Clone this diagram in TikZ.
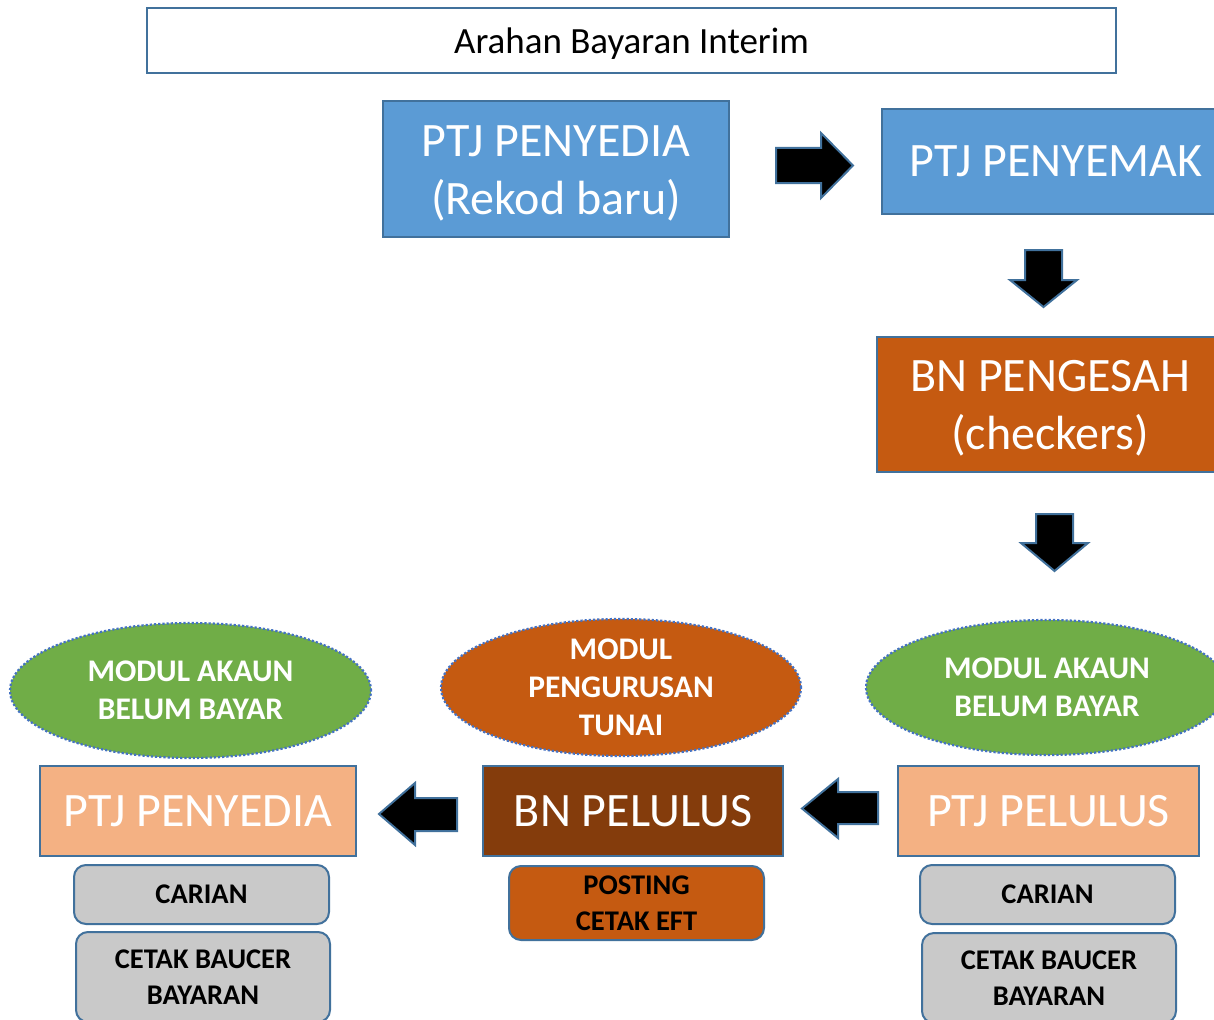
\documentclass[tikz,border=0pt]{standalone}
\usepackage{fontspec}
\setmainfont{Carlito}
\usetikzlibrary{shapes.geometric}
\definecolor{bordblue}{HTML}{41719C}
\definecolor{dotblue}{HTML}{4472C4}
\definecolor{fillblue}{HTML}{5B9BD5}
\definecolor{fillorange}{HTML}{C55A11}
\definecolor{fillbrown}{HTML}{843C0C}
\definecolor{fillpeach}{HTML}{F4B183}
\definecolor{fillgreen}{HTML}{70AD47}
\definecolor{fillgray}{HTML}{C9C9C9}
\newcommand{\lowr}[2]{\raisebox{-#1}[\height][\depth]{#2}}
\tikzset{
  bigbox/.style={draw=bordblue, line width=2pt, inner sep=0pt, align=center, text=white,
    font=\fontsize{48}{58}\selectfont},
  oval/.style={ellipse, draw=dotblue, dotted, line width=2.2pt, inner sep=0pt, align=center,
    text=white, font=\bfseries\fontsize{31.5}{38}\selectfont},
  tag/.style={draw=bordblue, line width=2pt, rounded corners=12pt, inner sep=0pt, align=center,
    text=black, font=\bfseries\fontsize{28.5}{36}\selectfont},
  blockarrow/.style={fill=black, draw=bordblue, line width=2pt, line join=miter}
}
\begin{document}
\begin{tikzpicture}[x=1pt,y=-1pt]
\useasboundingbox (0,0) rectangle (1214,1019);
\clip (0,0) rectangle (1214,1019);
\fill[white] (0,0) rectangle (1214,1019);

\node[draw=bordblue, line width=2pt, fill=white, minimum width=969pt, minimum height=65pt,
  inner sep=0pt, font=\fontsize{37}{44}\selectfont] (title) at (631.5,40.5) {\lowr{3pt}{Arahan Bayaran Interim}};

\node[bigbox, fill=fillblue, minimum width=346pt, minimum height=136pt] (penyedia1) at (556,169)
  {\lowr{4pt}{PTJ PENYEDIA}\\\lowr{4pt}{(Rekod baru)}};
\node[bigbox, fill=fillblue, minimum width=348pt, minimum height=105pt] (penyemak) at (1056,161.5)
  {PTJ PENYEMAK};
\node[bigbox, fill=fillorange, minimum width=346pt, minimum height=135pt] (pengesah) at (1050,404.5)
  {\lowr{4pt}{BN PENGESAH}\\\lowr{4pt}{(checkers)}};

\node[oval, fill=fillgreen, minimum width=361pt, minimum height=135pt] (modulL) at (190.5,690.5)
  {MODUL AKAUN\\BELUM BAYAR};
\node[oval, fill=fillorange, minimum width=360pt, minimum height=133pt] (modulM) at (621,687.5)
  {MODUL\\PENGURUSAN\\TUNAI};
\node[oval, fill=fillgreen, minimum width=362pt, minimum height=135pt] (modulR) at (1047,687.5)
  {MODUL AKAUN\\BELUM BAYAR};

\node[bigbox, fill=fillpeach, minimum width=316pt, minimum height=90pt] (penyedia2) at (198,811)
  {PTJ PENYEDIA};
\node[bigbox, fill=fillbrown, minimum width=300pt, minimum height=90pt] (bnpelulus) at (633,811)
  {BN PELULUS};
\node[bigbox, fill=fillpeach, minimum width=301pt, minimum height=90pt] (ptjpelulus) at (1048.5,811)
  {PTJ PELULUS};

\node[tag, fill=fillgray, minimum width=255pt, minimum height=59pt] (carianL) at (201.5,894.5) {CARIAN};
\node[tag, fill=fillgray, minimum width=254pt, minimum height=90pt] (cetakL) at (203,977) {CETAK BAUCER\\BAYARAN};
\node[tag, fill=fillorange, minimum width=255pt, minimum height=74pt] (posting) at (636.5,903) {POSTING\\CETAK EFT};
\node[tag, fill=fillgray, minimum width=255pt, minimum height=59pt] (carianR) at (1047.5,894.5) {CARIAN};
\node[tag, fill=fillgray, minimum width=254pt, minimum height=90pt] (cetakR) at (1049,978) {CETAK BAUCER\\BAYARAN};

% block arrows
\draw[blockarrow] (776,148) -- (821,148) -- (821,133) -- (853,165.5) -- (821,198) -- (821,183) -- (776,183) -- cycle;
\draw[blockarrow] (1025,250) -- (1062,250) -- (1062,280) -- (1077,280) -- (1043.5,307) -- (1010,280) -- (1025,280) -- cycle;
\draw[blockarrow] (1036,514) -- (1073,514) -- (1073,543) -- (1088,543) -- (1054.5,571) -- (1021,543) -- (1036,543) -- cycle;
\draw[blockarrow] (457,798) -- (415,798) -- (415,783) -- (379,814) -- (415,845) -- (415,831) -- (457,831) -- cycle;
\draw[blockarrow] (878,792) -- (838,792) -- (838,779) -- (802,808.5) -- (838,838) -- (838,824) -- (878,824) -- cycle;
\end{tikzpicture}
\end{document}
